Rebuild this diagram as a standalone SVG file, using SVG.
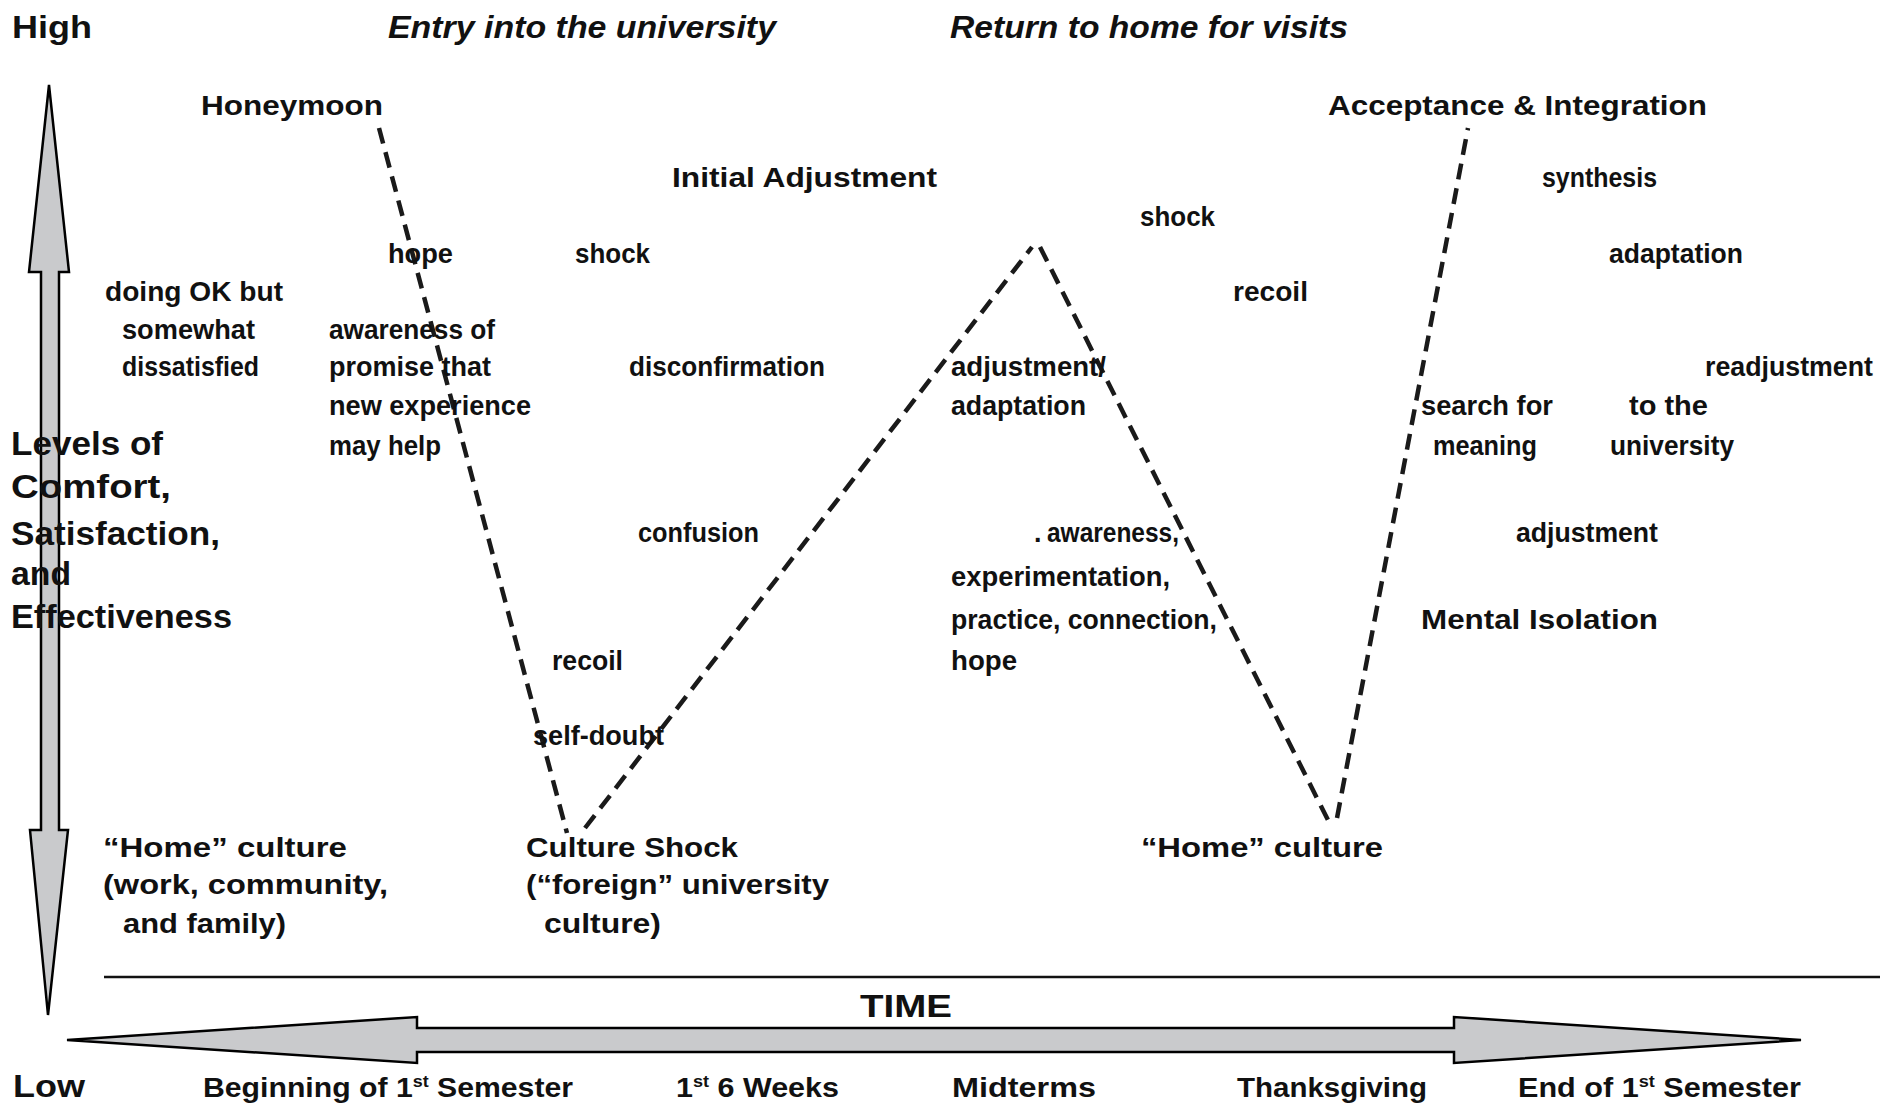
<svg xmlns="http://www.w3.org/2000/svg" width="1894" height="1107" viewBox="0 0 1894 1107">
<style>
text{font-family:"Liberation Sans",Arial,sans-serif;font-weight:bold;fill:#111;}
.b{font-size:27px;}
.h{font-size:28px;}
.big{font-size:34px;}
.ax{font-size:31px;}
.it{font-size:32px;font-style:italic;}
.tl{font-size:27px;}
.dash{fill:none;stroke:#1a1a1a;stroke-width:4.5;stroke-dasharray:16 9;}
.arrow{fill:#c9cacc;stroke:#000;stroke-width:2.5;stroke-linejoin:miter;}
</style>
<rect width="1894" height="1107" fill="#fff"/>

<g id="axes">
  <polygon class="arrow" points="49,85 69,272 59,272 59,830 68,830 48,1015 30,830 41,830 41,272 29,272"/>
  <polygon class="arrow" points="67,1040 417,1017 417,1028 1454,1028 1454,1017 1801,1040 1454,1063 1454,1052 417,1052 417,1063"/>
  <line x1="104" y1="977" x2="1880" y2="977" stroke="#111" stroke-width="2.5"/>
</g>

<g id="connectors">
  <line class="dash" x1="379" y1="128" x2="567" y2="833"/>
  <line class="dash" x1="585" y1="828" x2="1032" y2="247"/>
  <line class="dash" x1="1040" y1="247" x2="1329" y2="822"/>
  <line class="dash" x1="1337" y1="818" x2="1468" y2="128"/>
</g>

<g id="axis-labels">
  <text class="ax" x="12" y="38" textLength="80" lengthAdjust="spacingAndGlyphs">High</text>
  <text class="ax" x="13" y="1097" textLength="72" lengthAdjust="spacingAndGlyphs">Low</text>
  <text class="ax" x="860" y="1017" textLength="92" lengthAdjust="spacingAndGlyphs">TIME</text>
  <g id="y-title">
    <text class="big" x="11" y="455" textLength="152" lengthAdjust="spacingAndGlyphs">Levels of</text>
    <text class="big" x="11" y="498" textLength="160" lengthAdjust="spacingAndGlyphs">Comfort,</text>
    <text class="big" x="11" y="545" textLength="209" lengthAdjust="spacingAndGlyphs">Satisfaction,</text>
    <text class="big" x="11" y="585" textLength="60" lengthAdjust="spacingAndGlyphs">and</text>
    <text class="big" x="11" y="628" textLength="221" lengthAdjust="spacingAndGlyphs">Effectiveness</text>
  </g>
</g>

<g id="events">
  <text class="it" x="388" y="38" textLength="388" lengthAdjust="spacingAndGlyphs">Entry into the university</text>
  <text class="it" x="950" y="38" textLength="398" lengthAdjust="spacingAndGlyphs">Return to home for visits</text>
</g>

<g id="time-labels">
  <text class="tl" x="203" y="1097" textLength="370" lengthAdjust="spacingAndGlyphs">Beginning of 1<tspan font-size="16" dy="-10">st</tspan><tspan dy="10"> Semester</tspan></text>
  <text class="tl" x="676" y="1097" textLength="163" lengthAdjust="spacingAndGlyphs">1<tspan font-size="16" dy="-10">st</tspan><tspan dy="10"> 6 Weeks</tspan></text>
  <text class="tl" x="952" y="1097" textLength="144" lengthAdjust="spacingAndGlyphs">Midterms</text>
  <text class="tl" x="1237" y="1097" textLength="190" lengthAdjust="spacingAndGlyphs">Thanksgiving</text>
  <text class="tl" x="1518" y="1097" textLength="283" lengthAdjust="spacingAndGlyphs">End of 1<tspan font-size="16" dy="-10">st</tspan><tspan dy="10"> Semester</tspan></text>
</g>

<g id="node-home-culture">
  <text class="h" x="103" y="857" textLength="244" lengthAdjust="spacingAndGlyphs">“Home” culture</text>
  <text class="b" x="103" y="894" textLength="285" lengthAdjust="spacingAndGlyphs">(work, community,</text>
  <text class="b" x="123" y="933" textLength="163" lengthAdjust="spacingAndGlyphs">and family)</text>
</g>

<g id="node-doing-ok">
  <text class="b" x="105" y="301" textLength="178" lengthAdjust="spacingAndGlyphs">doing OK but</text>
  <text class="b" x="122" y="339" textLength="133" lengthAdjust="spacingAndGlyphs">somewhat</text>
  <text class="b" x="122" y="376" textLength="137" lengthAdjust="spacingAndGlyphs">dissatisfied</text>
</g>

<g id="node-honeymoon">
  <text class="h" x="201" y="115" textLength="182" lengthAdjust="spacingAndGlyphs">Honeymoon</text>
  <text class="b" x="388" y="263" textLength="65" lengthAdjust="spacingAndGlyphs">hope</text>
  <text class="b" x="329" y="339" textLength="166" lengthAdjust="spacingAndGlyphs">awareness of</text>
  <text class="b" x="329" y="376" textLength="162" lengthAdjust="spacingAndGlyphs">promise that</text>
  <text class="b" x="329" y="415" textLength="202" lengthAdjust="spacingAndGlyphs">new experience</text>
  <text class="b" x="329" y="455" textLength="112" lengthAdjust="spacingAndGlyphs">may help</text>
</g>

<g id="node-culture-shock">
  <text class="b" x="575" y="263" textLength="75" lengthAdjust="spacingAndGlyphs">shock</text>
  <text class="b" x="629" y="376" textLength="196" lengthAdjust="spacingAndGlyphs">disconfirmation</text>
  <text class="b" x="638" y="542" textLength="121" lengthAdjust="spacingAndGlyphs">confusion</text>
  <text class="b" x="552" y="670" textLength="71" lengthAdjust="spacingAndGlyphs">recoil</text>
  <text class="b" x="533" y="745" textLength="131" lengthAdjust="spacingAndGlyphs">self-doubt</text>
  <text class="h" x="526" y="857" textLength="212" lengthAdjust="spacingAndGlyphs">Culture Shock</text>
  <text class="b" x="526" y="894" textLength="303" lengthAdjust="spacingAndGlyphs">(“foreign” university</text>
  <text class="b" x="544" y="933" textLength="117" lengthAdjust="spacingAndGlyphs">culture)</text>
</g>

<g id="node-initial-adjustment">
  <text class="h" x="672" y="187" textLength="265" lengthAdjust="spacingAndGlyphs">Initial Adjustment</text>
  <text class="b" x="951" y="376" textLength="155" lengthAdjust="spacingAndGlyphs">adjustment/</text>
  <text class="b" x="951" y="415" textLength="135" lengthAdjust="spacingAndGlyphs">adaptation</text>
  <text class="b" x="1034" y="542">.</text>
  <text class="b" x="1047" y="542" textLength="132" lengthAdjust="spacingAndGlyphs">awareness,</text>
  <text class="b" x="951" y="586" textLength="219" lengthAdjust="spacingAndGlyphs">experimentation,</text>
  <text class="b" x="951" y="629" textLength="266" lengthAdjust="spacingAndGlyphs">practice, connection,</text>
  <text class="b" x="951" y="670" textLength="66" lengthAdjust="spacingAndGlyphs">hope</text>
</g>

<g id="node-return-home">
  <text class="b" x="1140" y="226" textLength="75" lengthAdjust="spacingAndGlyphs">shock</text>
  <text class="b" x="1233" y="301" textLength="75" lengthAdjust="spacingAndGlyphs">recoil</text>
  <text class="h" x="1141" y="857" textLength="242" lengthAdjust="spacingAndGlyphs">“Home” culture</text>
</g>

<g id="node-mental-isolation">
  <text class="b" x="1421" y="415" textLength="132" lengthAdjust="spacingAndGlyphs">search for</text>
  <text class="b" x="1433" y="455" textLength="104" lengthAdjust="spacingAndGlyphs">meaning</text>
  <text class="h" x="1421" y="629" textLength="237" lengthAdjust="spacingAndGlyphs">Mental Isolation</text>
</g>

<g id="node-acceptance">
  <text class="h" x="1328" y="115" textLength="379" lengthAdjust="spacingAndGlyphs">Acceptance &amp; Integration</text>
  <text class="b" x="1542" y="187" textLength="115" lengthAdjust="spacingAndGlyphs">synthesis</text>
  <text class="b" x="1609" y="263" textLength="134" lengthAdjust="spacingAndGlyphs">adaptation</text>
  <text class="b" x="1705" y="376" textLength="168" lengthAdjust="spacingAndGlyphs">readjustment</text>
  <text class="b" x="1629" y="415" textLength="79" lengthAdjust="spacingAndGlyphs">to the</text>
  <text class="b" x="1610" y="455" textLength="124" lengthAdjust="spacingAndGlyphs">university</text>
  <text class="b" x="1516" y="542" textLength="142" lengthAdjust="spacingAndGlyphs">adjustment</text>
</g>
</svg>
